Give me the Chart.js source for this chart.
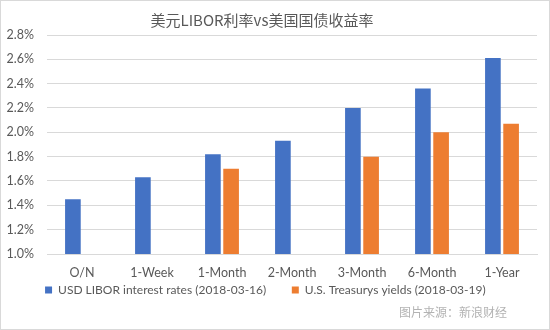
<!DOCTYPE html>
<html>
<head>
<meta charset="utf-8">
<script src="https://cdn.jsdelivr.net/npm/chart.js@4"></script>
<style>
  html, body { margin: 0; padding: 0; background: #fff; }
  #wrap { position: relative; width: 548px; height: 328px; border: 1px solid #d9d9d9; }
</style>
</head>
<body>
<div id="wrap"><canvas id="chart"></canvas></div>
<script>
const categories = ['O/N', '1-Week', '1-Month', '2-Month', '3-Month', '6-Month', '1-Year'];
const liborRates = [1.45, 1.63, 1.82, 1.93, 2.20, 2.36, 2.61];
const treasuryYields = [null, null, 1.70, null, 1.80, 2.00, 2.07];
const seriesNames = ['USD LIBOR interest rates (2018-03-16)', 'U.S. Treasurys yields (2018-03-19)'];
const titleText = '美元LIBOR利率vs美国国债收益率';
const sourceText = '图片来源：新浪财经';

const textColor = '#595959';
const baseFont = 'Lato, "Open Sans", sans-serif';

// title sits a bit left of centre, source caption bottom right
const captions = {
    id: 'captions',
    afterDraw(chart) {
        const ctx = chart.ctx;
        ctx.save();
        ctx.textBaseline = 'middle';
        ctx.textAlign = 'center';
        ctx.font = '15px "Noto Sans CJK SC", sans-serif';
        ctx.fillStyle = textColor;
        ctx.fillText(titleText, 261, 19);
        ctx.textAlign = 'right';
        ctx.font = '12px "Noto Sans CJK SC", sans-serif';
        ctx.fillStyle = '#b3b3b3';
        ctx.fillText(sourceText, 506, 311);
        ctx.restore();
    }
};

// legend entries get trailing spaces to open up the gap between them
const legendGap = ['        ', '    '];

new Chart(document.getElementById('chart'), {
    type: 'bar',
    data: {
        labels: categories,
        datasets: [
            { label: seriesNames[0], data: liborRates, backgroundColor: '#4472c4' },
            { label: seriesNames[1], data: treasuryYields, backgroundColor: '#ed7d31' }
        ]
    },
    options: {
        responsive: true,
        maintainAspectRatio: false,
        animation: false,
        datasets: { bar: { categoryPercentage: 0.52, barPercentage: 0.86 } },
        layout: { padding: { left: 5, right: 12, top: 34, bottom: 23 } },
        scales: {
            x: {
                grid: { display: false },
                border: { color: '#d9d9d9' },
                ticks: { color: textColor, font: { family: baseFont, size: 12.5 }, padding: 3 }
            },
            y: {
                min: 1.0,
                max: 2.8,
                border: { display: false },
                grid: { color: '#d9d9d9', drawTicks: false },
                afterFit: scale => { scale.width = 41; },
                ticks: {
                    stepSize: 0.2,
                    color: textColor,
                    padding: 13,
                    font: { family: baseFont, size: 12.5 },
                    callback: v => v.toFixed(1) + '%'
                }
            }
        },
        plugins: {
            legend: {
                position: 'bottom',
                labels: {
                    color: textColor,
                    font: { family: baseFont, size: 12 },
                    boxWidth: 7,
                    boxHeight: 7,
                    padding: 1,
                    generateLabels: chart => {
                        const items = Chart.defaults.plugins.legend.labels.generateLabels(chart);
                        items.forEach((item, i) => { item.text += legendGap[i]; });
                        return items;
                    }
                }
            },
            tooltip: { enabled: false }
        }
    },
    plugins: [captions]
});
</script>
</body>
</html>
